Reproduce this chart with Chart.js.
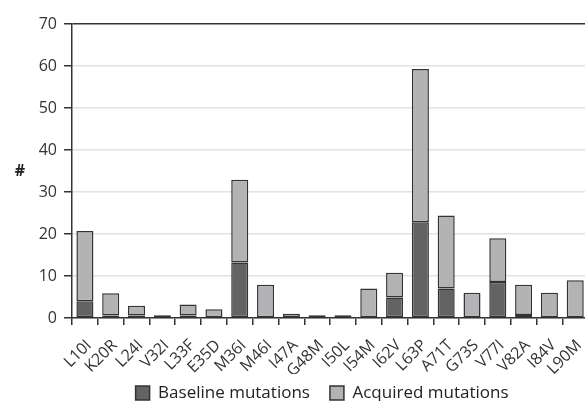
<!DOCTYPE html>
<html><head><meta charset="utf-8">
<script src="https://cdn.jsdelivr.net/npm/chart.js@4"></script>
<style>
html,body{margin:0;padding:0;background:#fff;overflow:hidden;}
#wrap{position:relative;width:600px;height:401px;}
</style></head><body>
<div id="wrap"><canvas id="c"></canvas></div>
<script>
const categories = ['L10I','K20R','L24I','V32I','L33F','E35D','M36I','M46I','I47A','G48M','I50L','I54M','I62V','L63P','A71T','G73S','V77I','V82A','I84V','L90M'];
const baselineMutations = [4.0,0.6,0.6,0,0.6,0,13.2,0,0,0,0,0,4.9,22.8,7.0,0,8.6,0.7,0,0];
const acquiredMutations = [16.7,5.3,2.3,0.65,2.6,2.1,19.7,7.9,1.0,0.65,0.65,7.0,5.9,36.5,17.4,6.0,10.4,7.2,6.0,9.0];
const yTickValues = [0,10,20,30,40,50,60,70];
const seriesNames = ['Baseline mutations','Acquired mutations'];
const yAxisLabel = '#';

const FONT = "'Open Sans', 'DejaVu Sans', sans-serif";
const nz = arr => arr.map(v => v === 0 ? null : v);

const hashPlugin = {
  id: 'hashLabel',
  afterLayout(chart) {
    const lg = chart.legend;
    if (lg) {
      lg.top -= 9.5;
      lg.bottom = chart.height;
      lg.height = lg.bottom - lg.top;
      lg.left -= 8; lg.right -= 8;
    }
  },
  afterDraw(chart) {
    const {ctx, chartArea} = chart;
    ctx.save();
    ctx.font = "bold 16px " + FONT;
    ctx.fillStyle = '#222';
    ctx.textAlign = 'center';
    ctx.textBaseline = 'middle';
    ctx.fillText(yAxisLabel, 20, (chartArea.top + chartArea.bottom) / 2);
    ctx.restore();
  }
};

new Chart(document.getElementById('c'), {
  type: 'bar',
  data: {
    labels: categories,
    datasets: [
      {label: seriesNames[0], data: nz(baselineMutations), backgroundColor: '#636363', borderColor: '#333', borderWidth: 1.5, borderSkipped: false, barPercentage: 0.66, categoryPercentage: 1},
      {label: seriesNames[1], data: nz(acquiredMutations), backgroundColor: '#b3b3b6', borderColor: '#333', borderWidth: 1.5, borderSkipped: false, barPercentage: 0.66, categoryPercentage: 1}
    ]
  },
  options: {
    responsive: true,
    maintainAspectRatio: false,
    animation: false,
    devicePixelRatio: 1,
    layout: {padding: {top: 24, right: 8, left: 0, bottom: 0}},
    plugins: {
      tooltip: {enabled: false},
      legend: {
        position: 'bottom',
        fullSize: false,
        maxHeight: 27,
        labels: {boxWidth: 14, boxHeight: 14, padding: 20, color: '#222', font: {family: FONT, size: 17}}
      }
    },
    scales: {
      x: {
        stacked: true,
        afterFit(s) { s.height = 56; },
        grid: {offset: true, drawOnChartArea: false, drawTicks: true, tickLength: 7, color: '#333', lineWidth: 1.5},
        border: {color: '#333', width: 1.5},
        ticks: {maxRotation: 45, minRotation: 45, autoSkip: false, padding: 11, labelOffset: 4, color: '#333', font: {family: FONT, size: 16}}
      },
      y: {
        stacked: true,
        min: 0, max: 70,
        afterFit(s) { s.width = 72; },
        afterBuildTicks(s) { s.ticks = yTickValues.map(v => ({value: v})); },
        grid: {
          color: ctx => (ctx.tick && ctx.tick.value === 70) ? '#333' : '#e2e2e2',
          lineWidth: 1.5,
          tickColor: '#333', tickLength: 8
        },
        border: {color: '#333', width: 1.5},
        ticks: {padding: 7, color: '#333', font: {family: FONT, size: 16}}
      }
    }
  },
  plugins: [hashPlugin]
});
</script>
</body></html>
